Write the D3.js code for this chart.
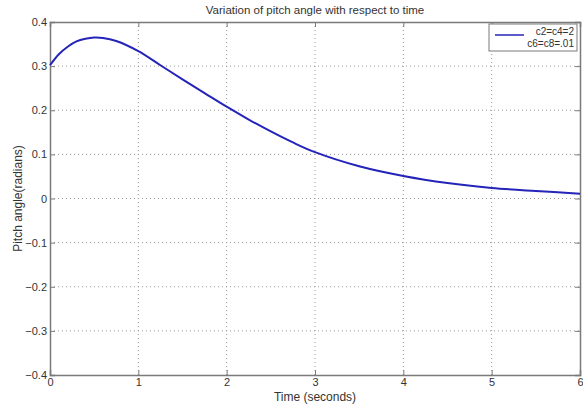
<!DOCTYPE html>
<html>
<head>
<meta charset="utf-8">
<script src="https://cdn.jsdelivr.net/npm/d3@7"></script>
<style>
  body { margin: 0; background: #fff; }
  svg text { font-family: "Liberation Sans", Arial, sans-serif; fill: #333; }
  .axis path, .axis line { stroke: #7a7a7a; }
  .grid line { stroke: #9a9a9a; stroke-dasharray: 1,3; }
</style>
</head>
<body>
<div id="chart"></div>
<script>
// data
const timeValues = [0, 0.1, 0.2, 0.3, 0.4, 0.5, 0.6, 0.75, 1, 1.25, 1.5, 1.75, 2, 2.25, 2.5, 2.75, 3, 3.5, 4, 4.5, 5, 5.5, 6];
const pitchValues = [0.302, 0.327, 0.344, 0.356, 0.362, 0.365, 0.364, 0.357, 0.334, 0.302, 0.270, 0.239, 0.208, 0.179, 0.152, 0.127, 0.105, 0.073, 0.051, 0.035, 0.024, 0.017, 0.011];
const xTicks = [0, 1, 2, 3, 4, 5, 6];
const yTicks = [-0.4, -0.3, -0.2, -0.1, 0, 0.1, 0.2, 0.3, 0.4];
const legendLines = ['c2=c4=2', 'c6=c8=.01'];

const width = 583, height = 405;
const margin = {t: 22, r: 3, b: 30, l: 50};
const w = width - margin.l - margin.r;
const h = height - margin.t - margin.b;

const svg = d3.select('#chart').append('svg')
    .attr('width', width)
    .attr('height', height);

const plot = svg.append('g')
    .attr('transform', `translate(${margin.l},${margin.t})`);

const scaleX = d3.scaleLinear().domain([0, 6]).range([0, w]);
const scaleY = d3.scaleLinear().domain([-0.4, 0.4]).range([h, 0]);

// grid
const grid = plot.append('g').attr('class', 'grid');
grid.selectAll('.gx')
    .data(xTicks.slice(1, -1))
    .enter().append('line')
    .attr('x1', d => scaleX(d)).attr('x2', d => scaleX(d))
    .attr('y1', 0).attr('y2', h);
grid.selectAll('.gy')
    .data(yTicks.slice(1, -1))
    .enter().append('line')
    .attr('y1', d => scaleY(d)).attr('y2', d => scaleY(d))
    .attr('x1', 0).attr('x2', w);

// axes
const fmtY = d => d === 0 ? '0' : d3.format('.1f')(d);
const axisX = d3.axisBottom(scaleX).tickValues(xTicks).tickSize(-5).tickPadding(3).tickFormat(d3.format('d'));
const axisY = d3.axisLeft(scaleY).tickValues(yTicks).tickSize(-5).tickPadding(3).tickFormat(fmtY);
const axisTop = d3.axisTop(scaleX).tickValues(xTicks).tickSize(-5).tickFormat('');
const axisRight = d3.axisRight(scaleY).tickValues(yTicks).tickSize(-5).tickFormat('');

plot.append('g').attr('class', 'axis').attr('transform', `translate(0,${h})`).call(axisX);
plot.append('g').attr('class', 'axis').call(axisY);
plot.append('g').attr('class', 'axis').call(axisTop);
plot.append('g').attr('class', 'axis').attr('transform', `translate(${w},0)`).call(axisRight);

plot.selectAll('.axis text').style('font-size', '11px').style('fill', '#333');
plot.selectAll('.axis .domain').attr('stroke', '#7a7a7a').attr('stroke-width', 1.5);

// curve
const data = timeValues.map((t, i) => ({t: t, v: pitchValues[i]}));
const line = d3.line()
    .x(d => scaleX(d.t))
    .y(d => scaleY(d.v))
    .curve(d3.curveCatmullRom);

plot.append('path')
    .datum(data)
    .attr('fill', 'none')
    .attr('stroke', '#2424b8')
    .attr('stroke-width', 2)
    .attr('d', line);

// legend
const legend = plot.append('g').attr('transform', `translate(${w - 91},2)`);
legend.append('rect')
    .attr('width', 88).attr('height', 27)
    .attr('fill', '#fff')
    .attr('stroke', '#7a7a7a');
legend.append('line')
    .attr('x1', 6).attr('x2', 35).attr('y1', 11).attr('y2', 11)
    .attr('stroke', '#2424b8').attr('stroke-width', 1.5);
legend.selectAll('.lt')
    .data(legendLines)
    .enter().append('text')
    .attr('x', 85)
    .attr('y', (d, i) => 11 + i * 12)
    .attr('text-anchor', 'end')
    .style('font-size', '10px')
    .text(d => d);

// titles
svg.append('text')
    .attr('x', margin.l + w / 2).attr('y', 14)
    .attr('text-anchor', 'middle')
    .style('font-size', '11.5px')
    .text('Variation of pitch angle with respect to time');

svg.append('text')
    .attr('x', margin.l + w / 2).attr('y', 401)
    .attr('text-anchor', 'middle')
    .style('font-size', '12px')
    .text('Time (seconds)');

svg.append('text')
    .attr('transform', `translate(22,${margin.t + h / 2}) rotate(-90)`)
    .attr('text-anchor', 'middle')
    .style('font-size', '12px')
    .text('Pitch angle(radians)');
</script>
</body>
</html>
